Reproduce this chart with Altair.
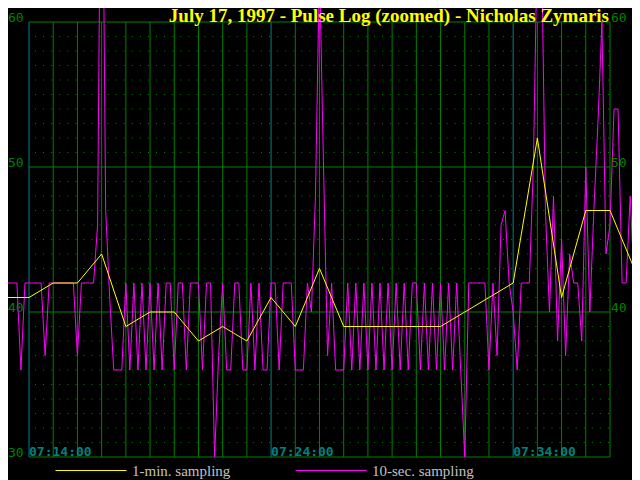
import altair as alt
import pandas as pd

title_text = "July 17, 1997 - Pulse Log (zoomed) - Nicholas Zymaris"

# 1-minute sampling: minute after 07:00 and pulse
one_min_time = list(range(12, 41))
one_min_pulse = [41, 41, 41, 42, 42, 44, 39, 40, 40, 38, 39, 38, 41, 39, 43,
                 39, 39, 39, 39, 39, 40, 41, 42, 52, 41, 47, 47, 43, 42.5]

# 10-second sampling, first sample at 07:12:50
ten_sec_start = 12 + 50 / 60
ten_sec_pulse = [
    42, 42, 42, 42, 42, 36, 42, 42, 42, 42, 42, 37,
    42, 42, 42, 42, 42, 42, 42, 37, 42, 42, 42, 42,
    46, 80, 47, 41, 36, 36, 36, 42, 36, 42, 36, 42,
    36, 42, 36, 42, 36, 42, 42, 36, 42, 42, 36, 42,
    42, 42, 36, 42, 42, 30, 37, 42, 36, 36, 42, 42,
    36, 36, 42, 36, 42, 36, 36, 42, 42, 36, 42, 42,
    42, 36, 36, 36, 42, 40, 48, 64, 50, 37, 42, 36,
    36, 36, 42, 36, 42, 36, 42, 36, 42, 36, 42, 36,
    42, 36, 42, 36, 42, 36, 42, 42, 36, 42, 36, 42,
    36, 42, 36, 42, 36, 42, 36, 30, 42, 42, 42, 42,
    42, 36, 42, 37, 46, 47, 42, 40, 36, 42, 42, 42,
    50, 66, 66, 47, 40, 48, 38, 45, 37, 44, 42, 42,
    38, 50, 40, 47, 53, 60, 44, 46, 54, 54, 42, 42,
    48, 42, 42, 42,
]

minute_lines = list(range(14, 39))
labelled_minutes = [14, 24, 34]
time_labels = ["07:14:00", "07:24:00", "07:34:00"]
pulse_major = [30, 40, 50, 60]
pulse_minor = [v for v in range(31, 60) if v % 10]
left_labels = [30, 40, 50, 60]
right_labels = [40, 50, 60]
series_names = ["1-min. sampling", "10-sec. sampling"]
series_colors = ["#FFFF00", "#FF00FF"]

GREEN = "#008000"
TEAL = "#008080"

PX_PER_MIN = 581 / 24
PX_PER_BPM = 14.5
W, H = 624, 472
x_lo = 14 - 21 / PX_PER_MIN
x_hi = x_lo + W / PX_PER_MIN
y_hi = 60 + 14 / PX_PER_BPM
y_lo = y_hi - H / PX_PER_BPM

xs = alt.Scale(domain=[x_lo, x_hi], nice=False, zero=False)
ys = alt.Scale(domain=[y_lo, y_hi], nice=False, zero=False)


def X(f="t"):
    return alt.X(f"{f}:Q", scale=xs, axis=None)


def Y(f="p"):
    return alt.Y(f"{f}:Q", scale=ys, axis=None)


# grid
minor_df = pd.DataFrame({"p": pulse_minor, "a": 14, "b": 38})
dots = alt.Chart(minor_df).mark_rule(
    color=GREEN, strokeWidth=1, strokeDash=[1, 7.07], strokeDashOffset=2.07
).encode(x=X("a"), x2="b:Q", y=Y())

vl_df = pd.DataFrame({"t": [m for m in minute_lines if m not in labelled_minutes], "lo": 30, "hi": 60})
vlines = alt.Chart(vl_df).mark_rule(color=GREEN, strokeWidth=1).encode(
    x=X(), y=Y("lo"), y2="hi:Q")
tl_df = pd.DataFrame({"t": labelled_minutes, "lo": 30, "hi": 60})
tlines = alt.Chart(tl_df).mark_rule(color=TEAL, strokeWidth=1).encode(
    x=X(), y=Y("lo"), y2="hi:Q")
hl_df = pd.DataFrame({"p": pulse_major, "a": 14, "b": 38})
hlines = alt.Chart(hl_df).mark_rule(color=GREEN, strokeWidth=1).encode(
    x=X("a"), x2="b:Q", y=Y())

# legend: stroke symbols 71 px long; vega reserves a square box for them,
# so the legend top sits half a symbol above the wanted line position
SYM = 71
legend = alt.Legend(
    orient="none", legendX=47, legendY=462 - SYM / 2, direction="horizontal",
    symbolType="stroke", symbolSize=SYM * SYM, symbolStrokeWidth=1,
    labelFont="Liberation Serif", labelFontSize=15, labelColor="#C0C0C0",
    labelOffset=5, columnPadding=62, padding=0, title=None,
)
color = alt.Color("series:N", scale=alt.Scale(domain=series_names, range=series_colors),
                  legend=legend)

ten_df = pd.DataFrame({
    "t": [ten_sec_start + i / 6 for i in range(len(ten_sec_pulse))],
    "p": ten_sec_pulse,
    "series": series_names[1],
})
ten_line = alt.Chart(ten_df).mark_line(strokeWidth=1, clip=True).encode(
    x=X(), y=Y(), color=color)

one_df = pd.DataFrame({"t": one_min_time, "p": one_min_pulse, "series": series_names[0]})
one_line = alt.Chart(one_df).mark_line(strokeWidth=1, clip=True).encode(
    x=X(), y=Y(), color=color)

# labels
ll_df = pd.DataFrame({"p": left_labels, "s": [str(v) for v in left_labels]})
left_txt = alt.Chart(ll_df).mark_text(
    align="left", baseline="alphabetic", font="DejaVu Sans Mono", fontSize=13,
    color=GREEN).encode(x=alt.value(0), y=Y(), text="s:N")
rl_df = pd.DataFrame({"t": 38, "p": right_labels, "s": [str(v) for v in right_labels]})
right_txt = alt.Chart(rl_df).mark_text(
    align="left", baseline="alphabetic", dx=1, font="DejaVu Sans Mono", fontSize=13,
    color=GREEN).encode(x=X(), y=Y(), text="s:N")
tx_df = pd.DataFrame({"t": labelled_minutes, "p": 30, "s": time_labels})
time_txt = alt.Chart(tx_df).mark_text(
    align="left", baseline="alphabetic", dy=-1, font="DejaVu Sans Mono", fontSize=13,
    fontWeight="bold", color=TEAL).encode(x=X(), y=Y(), text="s:N")
ti_df = pd.DataFrame({"t": [38], "p": [60], "s": [title_text]})
title_txt = alt.Chart(ti_df).mark_text(
    align="right", baseline="alphabetic", dy=-0.5, dx=-1, font="Liberation Serif",
    fontSize=19, fontWeight="bold", color="#FFFF00").encode(x=X(), y=Y(), text="s:N")

chart = alt.layer(
    dots, vlines, tlines, hlines, ten_line, one_line,
    left_txt, right_txt, time_txt, title_txt,
).properties(
    width=W, height=H, padding=0, background="black",
    autosize=alt.AutoSizeParams(type="none"),
).configure_view(stroke=None)

chart.save("out.html", embed_options={"renderer": "svg", "actions": False})
